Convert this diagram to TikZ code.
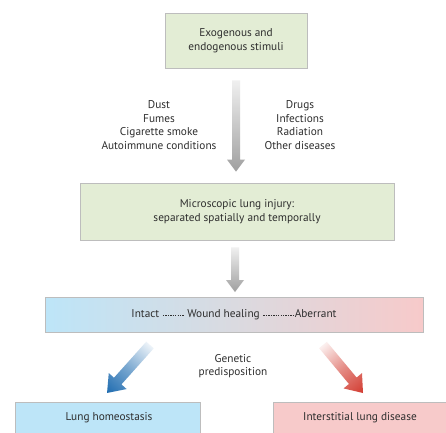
\documentclass[tikz,border=0pt]{standalone}
\usepackage{fontspec}
\setmainfont{PT Sans}
\usetikzlibrary{calc}
\definecolor{txt}{HTML}{2E2E2E}
\definecolor{greenfill}{HTML}{E3EDD5}
\definecolor{boxline}{HTML}{BDBDBD}
\definecolor{bluefill}{HTML}{BDE5F8}
\definecolor{pinkfill}{HTML}{F7CACA}
\definecolor{midgray}{HTML}{DADAE0}
\definecolor{arrblue}{HTML}{1F6CB0}
\definecolor{arrred}{HTML}{D23B30}
\newcommand\dashfill[1]{\leavevmode\xleaders\hbox to 2.3pt{\hss\rule[0.3ex]{1.3pt}{0.7pt}\hss}\hskip#1\relax}
\newcommand\grayarrow[2]{%
  \coordinate (T) at (#1 |- #2);
  \shade[top color=gray!12, bottom color=gray!75]
    ($(#1)+(-4,0)$) -- ($(#1)+(4,0)$) -- ($(T)+(4,-12)$) -- ($(T)+(9,-12)$) --
    (T) -- ($(T)+(-9,-12)$) -- ($(T)+(-4,-12)$) -- cycle;}
% #1 start, #2 canvas angle, #3 length, #4 dark colour
\newcommand\diagarrow[4]{%
  \begin{scope}[transform canvas={shift={(#1)}, rotate=#2}]
    \shade[left color=#4!8, right color=#4, middle color=#4!60]
      (0,-5) -- ({#3-16},-5) -- ({#3-16},-12) -- (#3,0) -- ({#3-16},12) -- ({#3-16},5) -- (0,5) -- cycle;
  \end{scope}}
\begin{document}
\begin{tikzpicture}[x=1pt,y=-1pt,
  every node/.style={text=txt, font=\fontsize{11.3}{13.7}\selectfont},
  greenbox/.style={draw=boxline, fill=greenfill, line width=0.8pt, inner sep=0pt, align=center},
  endbox/.style={draw=boxline, line width=0.8pt, inner sep=0pt, align=center},
  lbl/.style={align=center, inner sep=0pt}]
\useasboundingbox (0,0) rectangle (446,432);
\fill[white] (0,0) rectangle (446,432);

\node[greenbox, minimum width=142pt, minimum height=55pt] (top) at (236,40.5) {Exogenous and\\endogenous stimuli};
\node[lbl] (left) at (159,125) {Dust\\Fumes\\Cigarette smoke\\Autoimmune conditions};
\node[lbl] (right) at (300,125) {Drugs\\Infections\\Radiation\\Other diseases};
\node[greenbox, minimum width=314pt, minimum height=57pt] (mid) at (237,211.5) {Microscopic lung injury:\\separated spatially and temporally};

\shade[left color=bluefill, right color=pinkfill, middle color=midgray] (45,297) rectangle (423,332);
\draw[boxline, line width=0.8pt] (45,297) rectangle (423,332);
\node[lbl] (wide) at (234,314.5) {Intact \dashfill{22pt} Wound healing \dashfill{32pt}Aberrant};
\coordinate (wideN) at (234,297);

\node[lbl] (gen) at (233,366) {Genetic\\predisposition};

\node[endbox, fill=bluefill, minimum width=185pt, minimum height=36pt] (home) at (107.5,420) {};
\node[lbl] at (109,418) {Lung homeostasis};
\node[endbox, fill=pinkfill, minimum width=190pt, minimum height=36pt] (ild) at (368,420) {};
\node[lbl] at (360,418) {Interstitial lung disease};

\coordinate (a1s) at ($(top.south)+(0,12)$);
\coordinate (a1t) at ($(mid.north)+(0,-11)$);
\grayarrow{a1s}{a1t}
\coordinate (a2s) at ($(mid.south)+(-2,7)$);
\coordinate (a2t) at ($(wideN)+(0,-5)$);
\grayarrow{a2s}{a2t}

\coordinate (la1) at (150,345);
\diagarrow{la1}{-131.85}{64.4}{arrblue}
\coordinate (ra1) at (323,345);
\diagarrow{ra1}{-50.2}{62.5}{arrred}
\end{tikzpicture}
\end{document}
